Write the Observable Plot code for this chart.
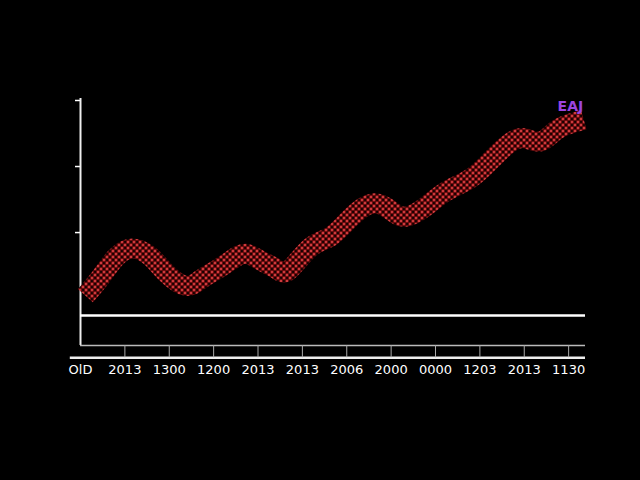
<!DOCTYPE html>
<html>
<head>
<meta charset="utf-8">
<script src="https://cdn.jsdelivr.net/npm/d3@7"></script>
<script src="https://cdn.jsdelivr.net/npm/@observablehq/plot@0.6"></script>
<style>
  html, body { margin: 0; padding: 0; background: #000; }
  #chart { width: 640px; height: 480px; overflow: hidden; }
</style>
</head>
<body>
<div id="chart"></div>
<script>
// Tick categories along the x axis (as printed)
const tickLabels = ["OlD", "2013", "1300", "1200", "2013", "2013", "2006", "2000", "0000", "1203", "2013", "1130"];
const tickPositions = [0, 1, 2, 3, 4, 5, 6, 7, 8, 9, 10, 11];

// Series (centre line of the dotted band), x in tick units
const seriesX = [0.11, 0.45, 0.79, 1.17, 1.58, 1.92, 2.37, 2.71, 3.04, 3.38, 3.72, 4.06, 4.40, 4.69, 5.18, 5.64, 6.09, 6.58, 6.99, 7.33, 7.78, 8.23, 8.79, 9.24, 9.69, 10.03, 10.37, 10.71, 11.04, 11.34];
const seriesY = [0.9, 6.4, 12.4, 15.2, 12.7, 7.9, 3.9, 5.8, 8.5, 11.5, 13.6, 11.5, 9.1, 8.5, 15.5, 18.8, 24.5, 28.8, 26.7, 24.8, 27.9, 32.4, 36.4, 41.8, 47.3, 48.5, 47.6, 50.9, 53.0, 54.2];

// Y ticks (unlabelled) and reference levels
const yTicks = [20, 40, 60];
const baselineValue = -5.15;
const frameBottom = -14.2;
const axisLineValue = -17.9;

// Legend label
const legendLabel = [{x: 11.04, y: 58.2, text: "EAJ"}];

const data = seriesX.map((x, i) => ({x, y: seriesY[i]}));

const chart = Plot.plot({
  width: 640,
  height: 480,
  marginLeft: 80,
  marginRight: 55,
  marginTop: 98,
  marginBottom: 135,
  style: {background: "#000", color: "#fff", fontFamily: "DejaVu Sans, sans-serif"},
  x: {domain: [0, 11.38], label: null},
  y: {domain: [frameBottom, 60.6], label: null},
  marks: [
    Plot.axisY({ticks: yTicks, tickFormat: () => "", tickSize: 5, stroke: "#fff", strokeWidth: 1.5, label: null}),
    Plot.axisX({ticks: tickPositions, tickFormat: (d, i) => tickLabels[i], tickSize: 0, tickPadding: 19, fontSize: 13, fill: "#fff", label: null}),
    Plot.ruleX([0], {y1: frameBottom, y2: 60.6, stroke: "#eee", strokeWidth: 2}),
    Plot.ruleY([frameBottom], {x1: 0, x2: 11.38, stroke: "#bbb", strokeWidth: 1.5}),
    Plot.ruleY([baselineValue], {x1: 0, x2: 11.38, stroke: "#fff", strokeWidth: 2.5}),
    Plot.ruleY([axisLineValue], {x1: -0.23, x2: 11.38, stroke: "#eee", strokeWidth: 2.5}),
    Plot.ruleX(tickPositions.slice(1), {y1: frameBottom, y2: axisLineValue, stroke: "#aaa", strokeWidth: 1}),
    Plot.line(data, {x: "x", y: "y", curve: "natural", stroke: "url(#dots)", strokeWidth: 20, strokeLinecap: "butt"}),
    Plot.text(legendLabel, {x: "x", y: "y", text: "text", fill: "#9b45e0", fontSize: 14, fontWeight: "bold"})
  ]
});

// dotted pattern for the band
const svg = d3.select(chart);
const defs = svg.insert("defs", ":first-child");
const pat = defs.append("pattern").attr("id", "dots").attr("patternUnits", "userSpaceOnUse").attr("width", 6).attr("height", 6);
pat.append("rect").attr("width", 6).attr("height", 6).attr("fill", "#120101");
[[1.5, 1.5], [4.5, 4.5]].forEach(([cx, cy]) => {
  pat.append("circle").attr("cx", cx).attr("cy", cy).attr("r", 1.7).attr("fill", "#c8161a");
  pat.append("circle").attr("cx", cx).attr("cy", cy).attr("r", 0.7).attr("fill", "#f09090");
});

document.getElementById("chart").append(chart);
</script>
</body>
</html>
